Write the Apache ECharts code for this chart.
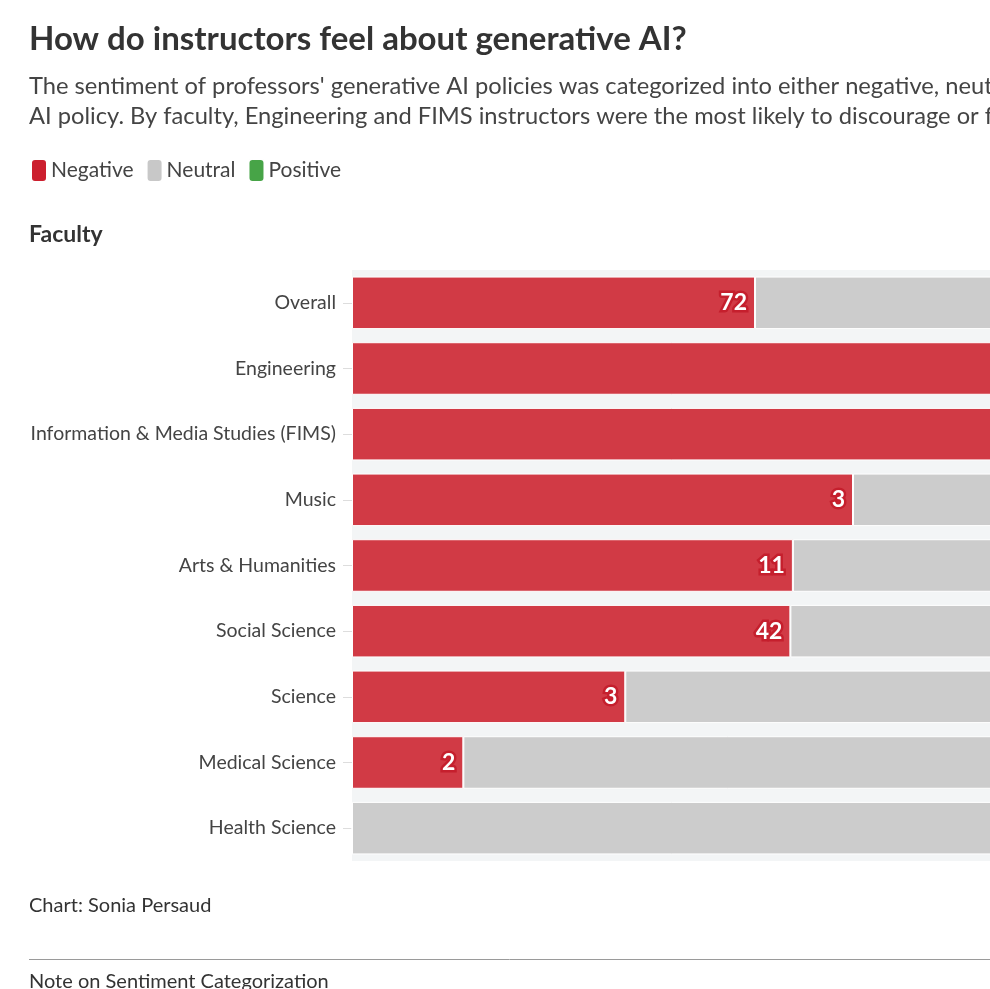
<!DOCTYPE html>
<html>
<head>
<meta charset="utf-8">
<script src="https://cdn.jsdelivr.net/npm/echarts@6/dist/echarts.min.js"></script>
<style>
html,body{margin:0;padding:0;background:#fff;}
#chart{width:990px;height:989px;}
</style>
</head>
<body>
<div id="chart"></div>
<script>
// Data (counts of instructors by sentiment)
var categories = ['Overall','Engineering','Information & Media Studies (FIMS)','Music','Arts & Humanities','Social Science','Science','Medical Science','Health Science'];
var negative = [72, 7, 4, 3, 11, 42, 3, 2, 0];
var neutral  = [74, 2, 1, 2, 9, 38, 5, 11, 6];
var positive = [33, 1, 0, 1, 5, 16, 3, 5, 2];
var seriesNames = ['Negative','Neutral','Positive'];

var FONT = 'Lato, "Noto Sans", sans-serif';
var counts = [negative, neutral, positive];
var totals = categories.map(function(_, i){ return negative[i] + neutral[i] + positive[i]; });
function pct(arr){ return arr.map(function(v, i){ return totals[i] ? v / totals[i] * 100 : 0; }); }

var barColors = ['#d13a45', '#cccccc', '#4ca64c'];
var haloColors = ['#c51f2d', '#b5b5b5', '#3a903a'];
var legendColors = ['#cc1f2e', '#c8c8c8', '#47a447'];

var chart = echarts.init(document.getElementById('chart'), null, {renderer: 'canvas'});

var series = seriesNames.map(function(name, s){
  return {
    name: name,
    type: 'bar',
    stack: 'total',
    barCategoryGap: '20%',
    data: pct(counts[s]),
    itemStyle: {color: barColors[s], borderColor: '#ffffff', borderWidth: 1},
    emphasis: {disabled: true},
    label: {
      show: true,
      position: 'insideRight',
      distance: 8,
      fontFamily: FONT,
      fontWeight: 'bold',
      fontSize: 23,
      color: '#ffffff',
      textBorderColor: haloColors[s],
      textBorderWidth: 5,
      formatter: function(p){ var c = counts[s][p.dataIndex]; return c ? String(c) : ''; }
    }
  };
});

chart.setOption({
  animation: false,
  textStyle: {fontFamily: FONT},
  title: {
    text: 'How do instructors feel about generative AI?',
    left: 29, top: 23, padding: 0,
    textStyle: {fontFamily: FONT, fontWeight: 'bold', fontSize: 33, color: '#333333'}
  },
  legend: {
    left: 30, top: 158, padding: 0,
    icon: 'roundRect',
    itemWidth: 16, itemHeight: 23,
    itemGap: 12,
    selectedMode: false,
    textStyle: {fontFamily: FONT, fontSize: 21, color: '#444444', padding: [0,0,0,-1]},
    data: seriesNames.map(function(n, i){ return {name: n, itemStyle: {color: legendColors[i]}}; })
  },
  grid: {
    left: 352, top: 270, width: 1002, height: 591,
    show: true, backgroundColor: '#f3f5f6', borderWidth: 0,
    containLabel: false,
    outerBoundsMode: 'none'
  },
  xAxis: {
    type: 'value', min: 0, max: 100,
    show: false
  },
  yAxis: {
    type: 'category', inverse: true,
    data: categories,
    axisLine: {show: false},
    axisTick: {show: true, alignWithLabel: true, length: 9, lineStyle: {color: '#dddddd'}},
    axisLabel: {fontFamily: FONT, fontSize: 19.5, color: '#444444', margin: 16}
  },
  graphic: [
    {type: 'text', left: 29, top: 74, style: {text: "The sentiment of professors' generative AI policies was categorized into either negative, neutral or positive based on the wording of each course's generative", font: '23.7px ' + FONT, fill: '#444444'}},
    {type: 'text', left: 29, top: 104, style: {text: 'AI policy. By faculty, Engineering and FIMS instructors were the most likely to discourage or forbid the use of generative AI.', font: '23.7px ' + FONT, fill: '#444444'}},
    {type: 'text', left: 29, top: 223, style: {text: 'Faculty', font: 'bold 23px ' + FONT, fill: '#333333'}},
    {type: 'text', left: 29, top: 896, style: {text: 'Chart: Sonia Persaud', font: '20px ' + FONT, fill: '#333333'}},
    {type: 'line', shape: {x1: 29, y1: 959.5, x2: 990, y2: 959.5}, style: {stroke: '#9a9a9a', lineWidth: 1}},
    {type: 'text', left: 29, top: 972, style: {text: 'Note on Sentiment Categorization', font: '20px ' + FONT, fill: '#333333'}}
  ],
  series: series
});
</script>
</body>
</html>
